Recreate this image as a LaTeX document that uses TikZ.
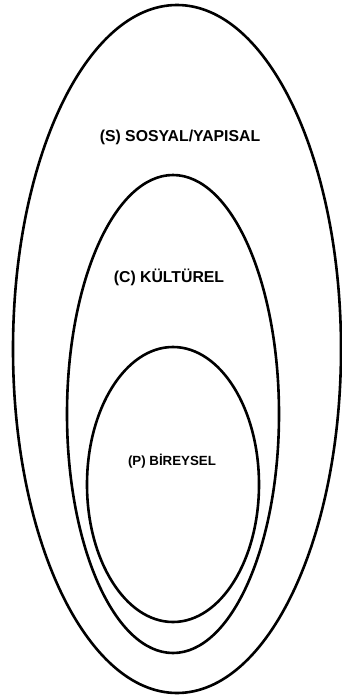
\documentclass[tikz,border=0pt]{standalone}
\usepackage{fontspec}
\setmainfont{Liberation Sans}
\tikzstyle{layer}=[draw=black, line width=2.6pt]
\tikzstyle{layername}=[font=\bfseries\fontsize{15.8}{18}\selectfont, inner sep=0pt]
\tikzstyle{smalllayername}=[font=\bfseries\fontsize{13.3}{16}\selectfont, inner sep=0pt]

\begin{document}
\begin{tikzpicture}[x=1pt, y=-1pt]
\useasboundingbox (0,0) rectangle (342,696);

%S
\draw[layer] (177,349) ellipse [x radius=164, y radius=344];
\node[layername] (sosyal) at (180,137) {(S) SOSYAL/YAPISAL};

%C
\draw[layer] (173,414) ellipse [x radius=106, y radius=239];
\node[layername] (kulturel) at (169,277) {(C) KÜLTÜREL};

%P
\draw[layer] (173,484.5) ellipse [x radius=86, y radius=137.5];
\node[smalllayername] (bireysel) at (172,461) {(P) BİREYSEL};

\end{tikzpicture}
\end{document}
